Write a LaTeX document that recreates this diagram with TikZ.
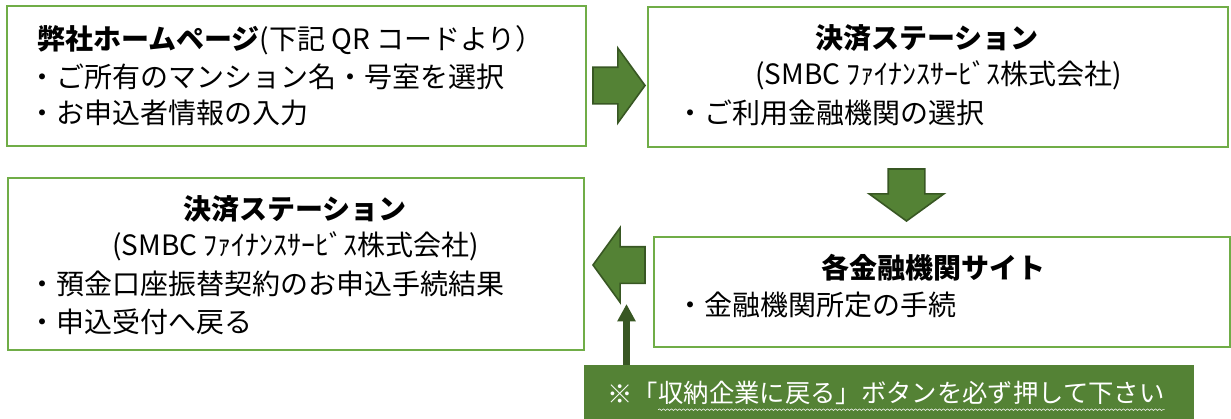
\documentclass[tikz,border=0pt]{standalone}
\usepackage{fontspec}
\setmainfont{Noto Sans CJK JP}
\usetikzlibrary{shapes.arrows,arrows.meta,decorations.pathmorphing}
\definecolor{boxline}{RGB}{112,173,71}
\definecolor{arrowfill}{RGB}{84,130,53}
\definecolor{arrowline}{RGB}{56,87,35}
\tikzset{
  box/.style={rectangle,draw=boxline,line width=1pt,inner sep=0pt},
  txt/.style={anchor=west,inner sep=0pt,font=\fontsize{21pt}{25pt}\selectfont},
  ttl/.style={inner sep=0pt,font=\fontsize{21pt}{25pt}\selectfont\bfseries},
  blockarrow/.style={single arrow,draw=arrowline,fill=arrowfill,line width=1.2pt,inner xsep=0pt,inner ysep=13.125pt,
    minimum height=39pt,single arrow head extend=14.25pt,single arrow tip angle=108,anchor=tip},
  notetxt/.style={anchor=west,inner sep=0pt,text=white,font=\fontsize{19pt}{23pt}\selectfont}
}
\begin{document}
\begin{tikzpicture}[x=0.75pt,y=-0.75pt]
\useasboundingbox (0,0) rectangle (1231,418);
\begin{scope}
\node (HP) at (296.5,76) [box,minimum width=434.25pt,minimum height=105pt] {};
\node (KS1) at (938,77) [box,minimum width=435pt,minimum height=105pt] {};
\node (KB) at (942,292) [box,minimum width=432pt,minimum height=82.5pt] {};
\node (KS2) at (296,264) [box,minimum width=432pt,minimum height=129pt] {};
\node (NOTE) at (889,392.5) [rectangle,fill=arrowfill,minimum width=457.5pt,minimum height=41.25pt] {};
\node (HPt) at (37,40) [txt] {{\bfseries 弊社ホームページ}(下記 QR コードより）};
\node (HPa) at (28,77) [txt] {・ご所有のマンション名・号室を選択};
\node (HPb) at (28,113) [txt] {・お申込者情報の入力};
\node (KS1t) at (927,38) [ttl] {決済ステーション};
\node (KS1s) at (755,75) [txt] {(SMBC ﾌｧｲﾅﾝｽｻｰﾋﾞｽ株式会社)};
\node (KS1a) at (676,113) [txt] {・ご利用金融機関の選択};
\node (KBt) at (933,268) [ttl] {各金融機関サイト};
\node (KBa) at (676,305) [txt] {・金融機関所定の手続};
\node (KS2t) at (295,209) [ttl] {決済ステーション};
\node (KS2s) at (112,246) [txt] {(SMBC ﾌｧｲﾅﾝｽｻｰﾋﾞｽ株式会社)};
\node (KS2a) at (28,284) [txt] {・預金口座振替契約のお申込手続結果};
\node (KS2b) at (28,322) [txt] {・申込受付へ戻る};
\node (RA) at (646,85.5) [blockarrow] {};
\node (DA) at (906.5,222) [blockarrow,rotate=-90] {};
\node (LA) at (592,265) [blockarrow,rotate=180] {};
\node (MARK) at (607,393) [notetxt] {※「};
\node (NOTEt) at (MARK.east) [notetxt] {収納企業に戻る」ボタンを必ず押して下さい};
\draw [white,decorate,decoration={snake,amplitude=0.6pt,segment length=3pt}] ([yshift=-3.5pt]NOTEt.south west) -- ([yshift=-3.5pt]NOTEt.south east);
\coordinate (UP) at (626.5,304);
\draw [arrowline,line width=5.5pt,-{Triangle[width=13pt,length=13pt]}] (NOTE.north -| UP) -- (UP);
\end{scope}
\end{tikzpicture}
\end{document}
